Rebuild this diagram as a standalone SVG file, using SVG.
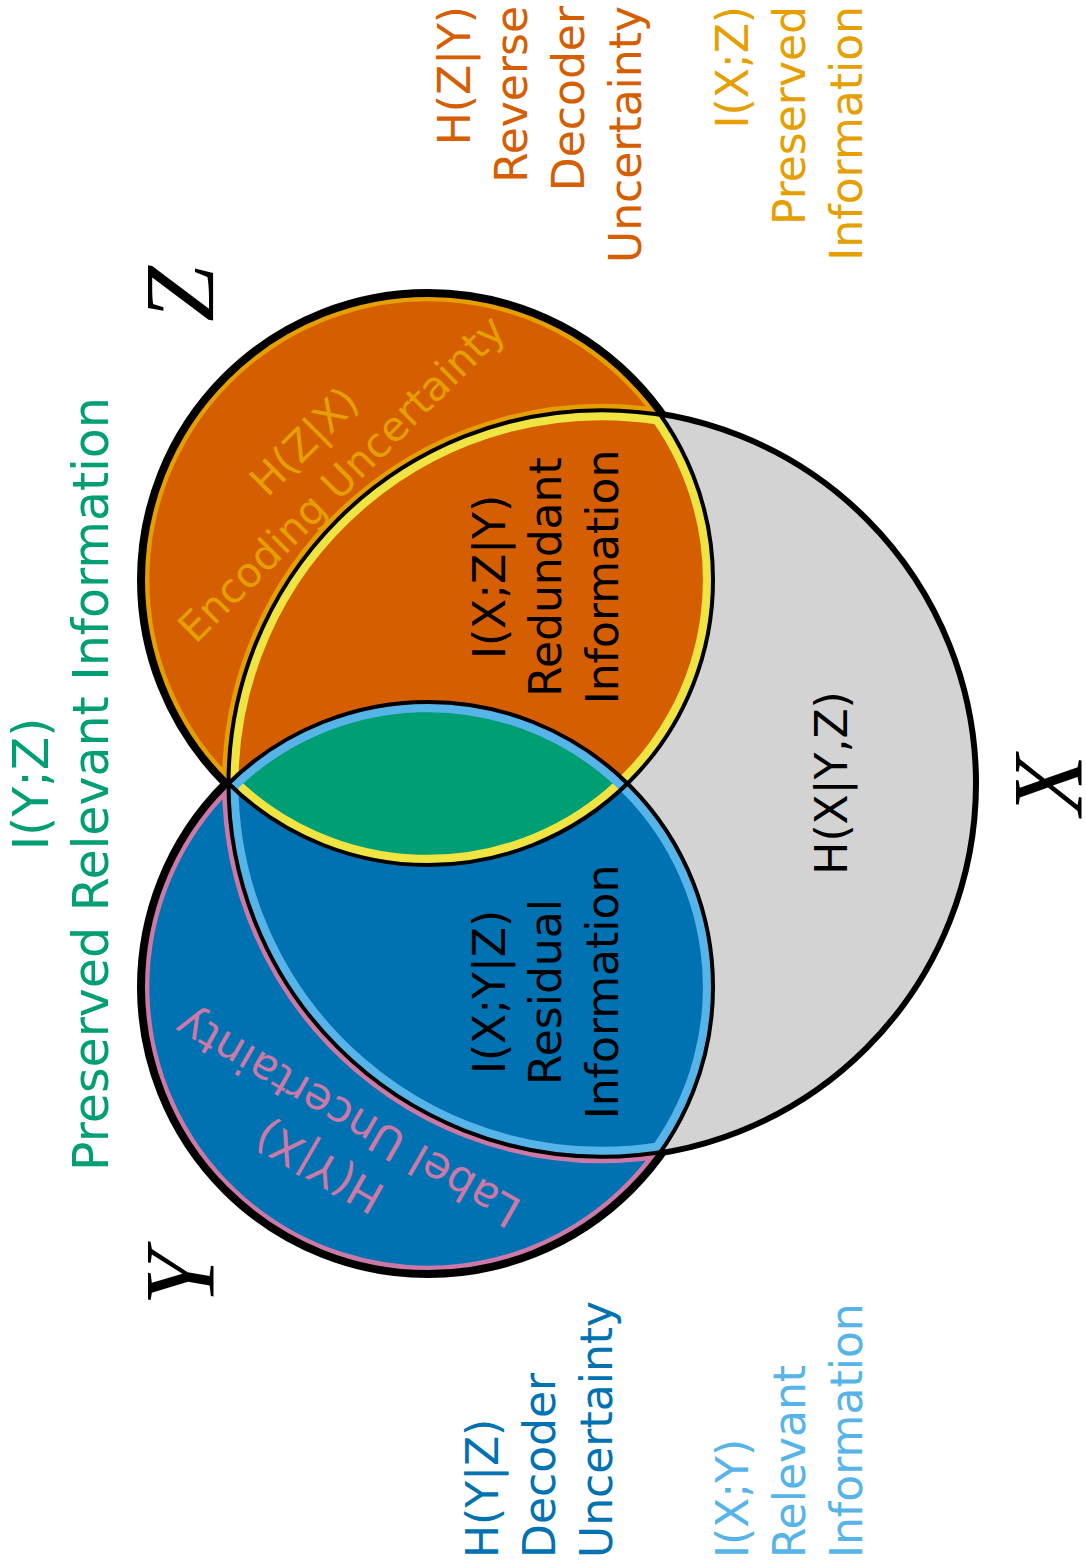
<svg xmlns="http://www.w3.org/2000/svg" width="1086" height="1568" viewBox="0 0 1086 1568">
<style>
text { font-family: "DejaVu Sans", "Noto Sans", sans-serif; font-size: 44px; }
.big { font-family: "Liberation Serif", serif; font-style: italic; font-size: 100px; fill: #000; }
.outline { fill: none; stroke: #000; stroke-width: 4; }
</style>
<defs>
  <path id="p-zx" d="M 660.28 414.88 A 285 285 0 1 0 228.5 783.5 A 373.25 373.25 0 0 1 660.28 414.88 Z"/>
  <path id="p-zix" d="M 228.5 783.5 A 373.25 373.25 0 0 1 660.28 414.88 A 285 285 0 0 1 228.5 783.5 Z"/>
  <path id="p-yx" d="M 660.28 1152.12 A 285 285 0 1 1 228.5 783.5 A 373.25 373.25 0 0 0 660.28 1152.12 Z"/>
  <path id="p-yix" d="M 228.5 783.5 A 373.25 373.25 0 0 0 660.28 1152.12 A 285 285 0 0 0 228.5 783.5 Z"/>
  <path id="p-yz" d="M 228.5 783.5 A 285 285 0 0 1 627.5 783.5 A 285 285 0 0 1 228.5 783.5 Z"/>
  <clipPath id="c-zx"><use href="#p-zx"/></clipPath>
  <clipPath id="c-zix"><use href="#p-zix"/></clipPath>
  <clipPath id="c-yx"><use href="#p-yx"/></clipPath>
  <clipPath id="c-yix"><use href="#p-yix"/></clipPath>
</defs>

<g id="underlay">
  <circle cx="428" cy="580" r="285" fill="none" stroke="#000" stroke-width="12"/>
  <circle cx="428" cy="987" r="285" fill="none" stroke="#000" stroke-width="12"/>
  <circle cx="601.75" cy="783.5" r="373.25" fill="none" stroke="#000" stroke-width="8"/>
</g>

<g id="node-x"><circle cx="601.75" cy="783.5" r="373.25" fill="#D3D3D3"/></g>
<g id="node-z"><circle cx="428" cy="580" r="285" fill="#D55E00"/></g>
<g id="node-y"><circle cx="428" cy="987" r="285" fill="#0072B2"/></g>
<g id="node-yz"><use href="#p-yz" fill="#009E73"/></g>

<g id="region-edges">
  <use href="#p-zx" fill="none" stroke="#E69F00" stroke-width="13" clip-path="url(#c-zx)"/>
  <use href="#p-yx" fill="none" stroke="#CC79A7" stroke-width="13" clip-path="url(#c-yx)"/>
  <use href="#p-zix" fill="none" stroke="#F0E442" stroke-width="20" clip-path="url(#c-zix)"/>
  <use href="#p-yix" fill="none" stroke="#56B4E9" stroke-width="20" clip-path="url(#c-yix)"/>
</g>

<g id="outlines">
  <circle class="outline" cx="601.75" cy="783.5" r="373.25"/>
  <circle class="outline" cx="428" cy="580" r="285"/>
  <circle class="outline" cx="428" cy="987" r="285"/>
</g>

<g id="label-iyz" transform="translate(0,784) rotate(-90)">
  <text text-anchor="middle" fill="#009E73" style="font-size:49px"><tspan x="0" y="48">I(Y;Z)</tspan><tspan x="0" y="108">Preserved Relevant Information</tspan></text>
</g>

<g id="label-hzy" transform="translate(0,6) rotate(-90)">
  <text text-anchor="end" fill="#D55E00"><tspan x="0" y="470">H(Z|Y)</tspan><tspan x="0" y="527">Reverse</tspan><tspan x="0" y="584">Decoder</tspan><tspan x="0" y="641">Uncertainty</tspan></text>
</g>

<g id="label-ixz" transform="translate(0,6) rotate(-90)">
  <text text-anchor="end" fill="#E69F00"><tspan x="0" y="748">I(X;Z)</tspan><tspan x="0" y="805">Preserved</tspan><tspan x="0" y="862">Information</tspan></text>
</g>

<g id="label-hyz" transform="translate(0,1558) rotate(-90)">
  <text text-anchor="start" fill="#0072B2"><tspan x="0" y="498">H(Y|Z)</tspan><tspan x="0" y="555">Decoder</tspan><tspan x="0" y="612">Uncertainty</tspan></text>
</g>

<g id="label-ixy" transform="translate(0,1558) rotate(-90)">
  <text text-anchor="start" fill="#56B4E9"><tspan x="0" y="748">I(X;Y)</tspan><tspan x="0" y="805">Relevant</tspan><tspan x="0" y="862">Information</tspan></text>
</g>

<g id="label-ixzy" transform="translate(0,577) rotate(-90)">
  <text text-anchor="middle" fill="#000"><tspan x="0" y="505">I(X;Z|Y)</tspan><tspan x="0" y="561">Redundant</tspan><tspan x="0" y="618">Information</tspan></text>
</g>

<g id="label-ixyz" transform="translate(0,992) rotate(-90)">
  <text text-anchor="middle" fill="#000"><tspan x="0" y="505">I(X;Y|Z)</tspan><tspan x="0" y="561">Residual</tspan><tspan x="0" y="618">Information</tspan></text>
</g>

<g id="label-hxyz" transform="translate(0,783) rotate(-90)">
  <text text-anchor="middle" fill="#000" x="0" y="847">H(X|Y,Z)</text>
</g>

<g id="label-hzx" transform="translate(322,459) rotate(-45)">
  <text text-anchor="middle" fill="#E69F00" style="font-size:41px"><tspan x="0" y="-11">H(Z|X)</tspan><tspan x="0" y="42">Encoding Uncertainty</tspan></text>
</g>

<g id="label-hyx" transform="translate(333,1143) rotate(210)">
  <text text-anchor="middle" fill="#CC79A7"><tspan x="0" y="-12">H(Y|X)</tspan><tspan x="0" y="44">Label Uncertainty</tspan></text>
</g>

<g id="letter-z" transform="translate(0,294) rotate(-90)"><text class="big" text-anchor="middle" x="0" y="213">Z</text></g>
<g id="letter-y" transform="translate(0,1278) rotate(-90)"><text class="big" text-anchor="middle" x="0" y="213">Y</text></g>
<g id="letter-x" transform="translate(0,785) rotate(-90)"><text class="big" text-anchor="middle" x="0" y="1081">X</text></g>
</svg>
